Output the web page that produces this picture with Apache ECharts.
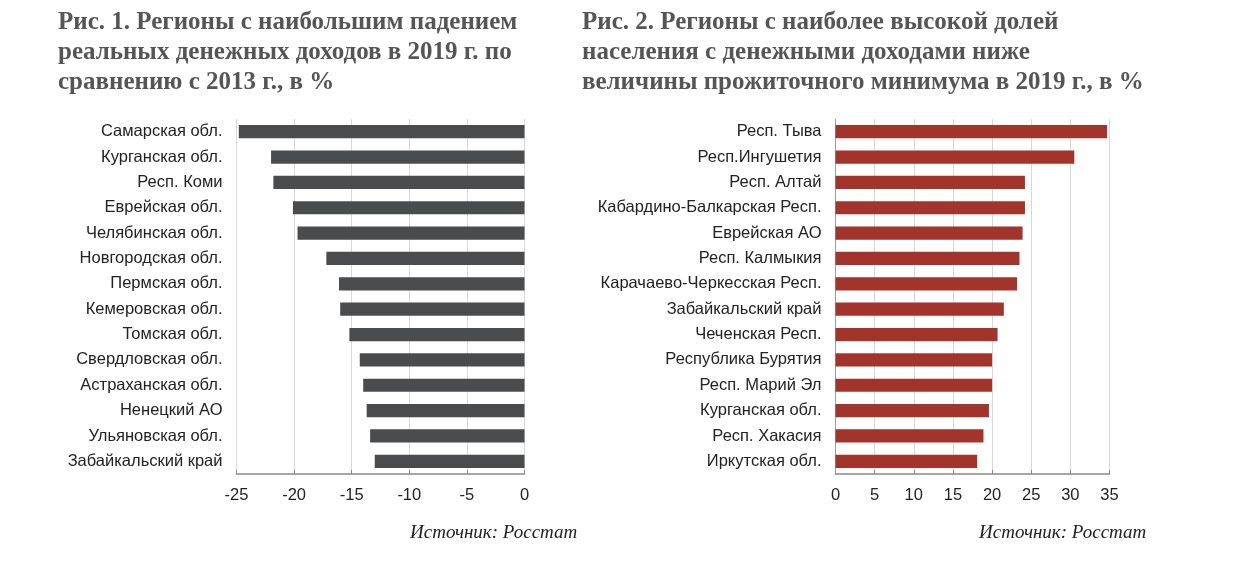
<!DOCTYPE html>
<html>
<head>
<meta charset="utf-8">
<script src="https://cdn.jsdelivr.net/npm/echarts@6/dist/echarts.min.js"></script>
<style>
html,body{margin:0;padding:0;background:#fff;}
#c{width:1242px;height:563px;}
</style>
</head>
<body>
<div id="c"></div>
<script>
const leftTitle = 'Рис. 1. Регионы с наибольшим падением\nреальных денежных доходов в 2019 г. по\nсравнению с 2013 г., в %';
const rightTitle = 'Рис. 2. Регионы с наиболее высокой долей\nнаселения с денежными доходами ниже\nвеличины прожиточного минимума в 2019 г., в %';
const sourceText = 'Источник: Росстат';

const leftCategories = ['Самарская обл.','Курганская обл.','Респ. Коми','Еврейская обл.','Челябинская обл.','Новгородская обл.','Пермская обл.','Кемеровская обл.','Томская обл.','Свердловская обл.','Астраханская обл.','Ненецкий АО','Ульяновская обл.','Забайкальский край'];
const leftValues = [-24.8,-22.0,-21.8,-20.1,-19.7,-17.2,-16.1,-16.0,-15.2,-14.3,-14.0,-13.7,-13.4,-13.0];
const leftTicks = [-25,-20,-15,-10,-5,0];

const rightCategories = ['Респ. Тыва','Респ.Ингушетия','Респ. Алтай','Кабардино-Балкарская Респ.','Еврейская АО','Респ. Калмыкия','Карачаево-Черкесская Респ.','Забайкальский край','Чеченская Респ.','Республика Бурятия','Респ. Марий Эл','Курганская обл.','Респ. Хакасия','Иркутская обл.'];
const rightValues = [34.7,30.5,24.2,24.2,23.9,23.5,23.2,21.5,20.7,20.0,20.0,19.6,18.9,18.1];
const rightTicks = [0,5,10,15,20,25,30,35];

const chart = echarts.init(document.getElementById('c'));
const titleStyle = {fontFamily:'Liberation Serif', fontWeight:'bold', fontSize:25, color:'#555', lineHeight:30};
const srcStyle = {fontFamily:'Liberation Serif', fontStyle:'italic', fontWeight:'normal', fontSize:19, color:'#222'};
const labelFont = {fontFamily:'Liberation Sans', fontSize:16.5, color:'#222'};

function xAxisCfg(idx, ticks){
  return {
    type:'value', gridIndex:idx,
    min:ticks[0], max:ticks[ticks.length-1], interval:5,
    axisLine:{show:true, lineStyle:{color:'#8a8a8a', width:1.5}},
    axisTick:{show:true, inside:true, length:4, lineStyle:{color:'#8a8a8a'}},
    axisLabel:Object.assign({margin:13}, labelFont),
    splitLine:{show:true, lineStyle:{color:'#d8d8d8', width:1}}
  };
}
function yAxisCfg(idx, cats, showLine){
  return {
    type:'category', gridIndex:idx, data:cats, inverse:true,
    axisLine:{show:showLine, onZero:false, lineStyle:{color:'#a0a0a0'}},
    axisTick:{show:false},
    axisLabel:Object.assign({margin:14}, labelFont)
  };
}

chart.setOption({
  animation:false,
  backgroundColor:'#fff',
  title:[
    {text:leftTitle, left:53, top:3, textStyle:titleStyle},
    {text:rightTitle, left:577, top:3, textStyle:titleStyle},
    {text:sourceText, left:405, top:518, textStyle:srcStyle},
    {text:sourceText, left:974, top:518, textStyle:srcStyle}
  ],
  grid:[
    {left:236.5, width:288, top:119, height:355},
    {left:835.5, width:274, top:119, height:355}
  ],
  xAxis:[xAxisCfg(0,leftTicks), xAxisCfg(1,rightTicks)],
  yAxis:[yAxisCfg(0,leftCategories,false), yAxisCfg(1,rightCategories,true)],
  series:[
    {type:'bar', xAxisIndex:0, yAxisIndex:0, data:leftValues, barWidth:'52%', itemStyle:{color:'#4a4b4d'}},
    {type:'bar', xAxisIndex:1, yAxisIndex:1, data:rightValues, barWidth:'52%', itemStyle:{color:'#a2342c'}}
  ]
});
</script>
</body>
</html>
